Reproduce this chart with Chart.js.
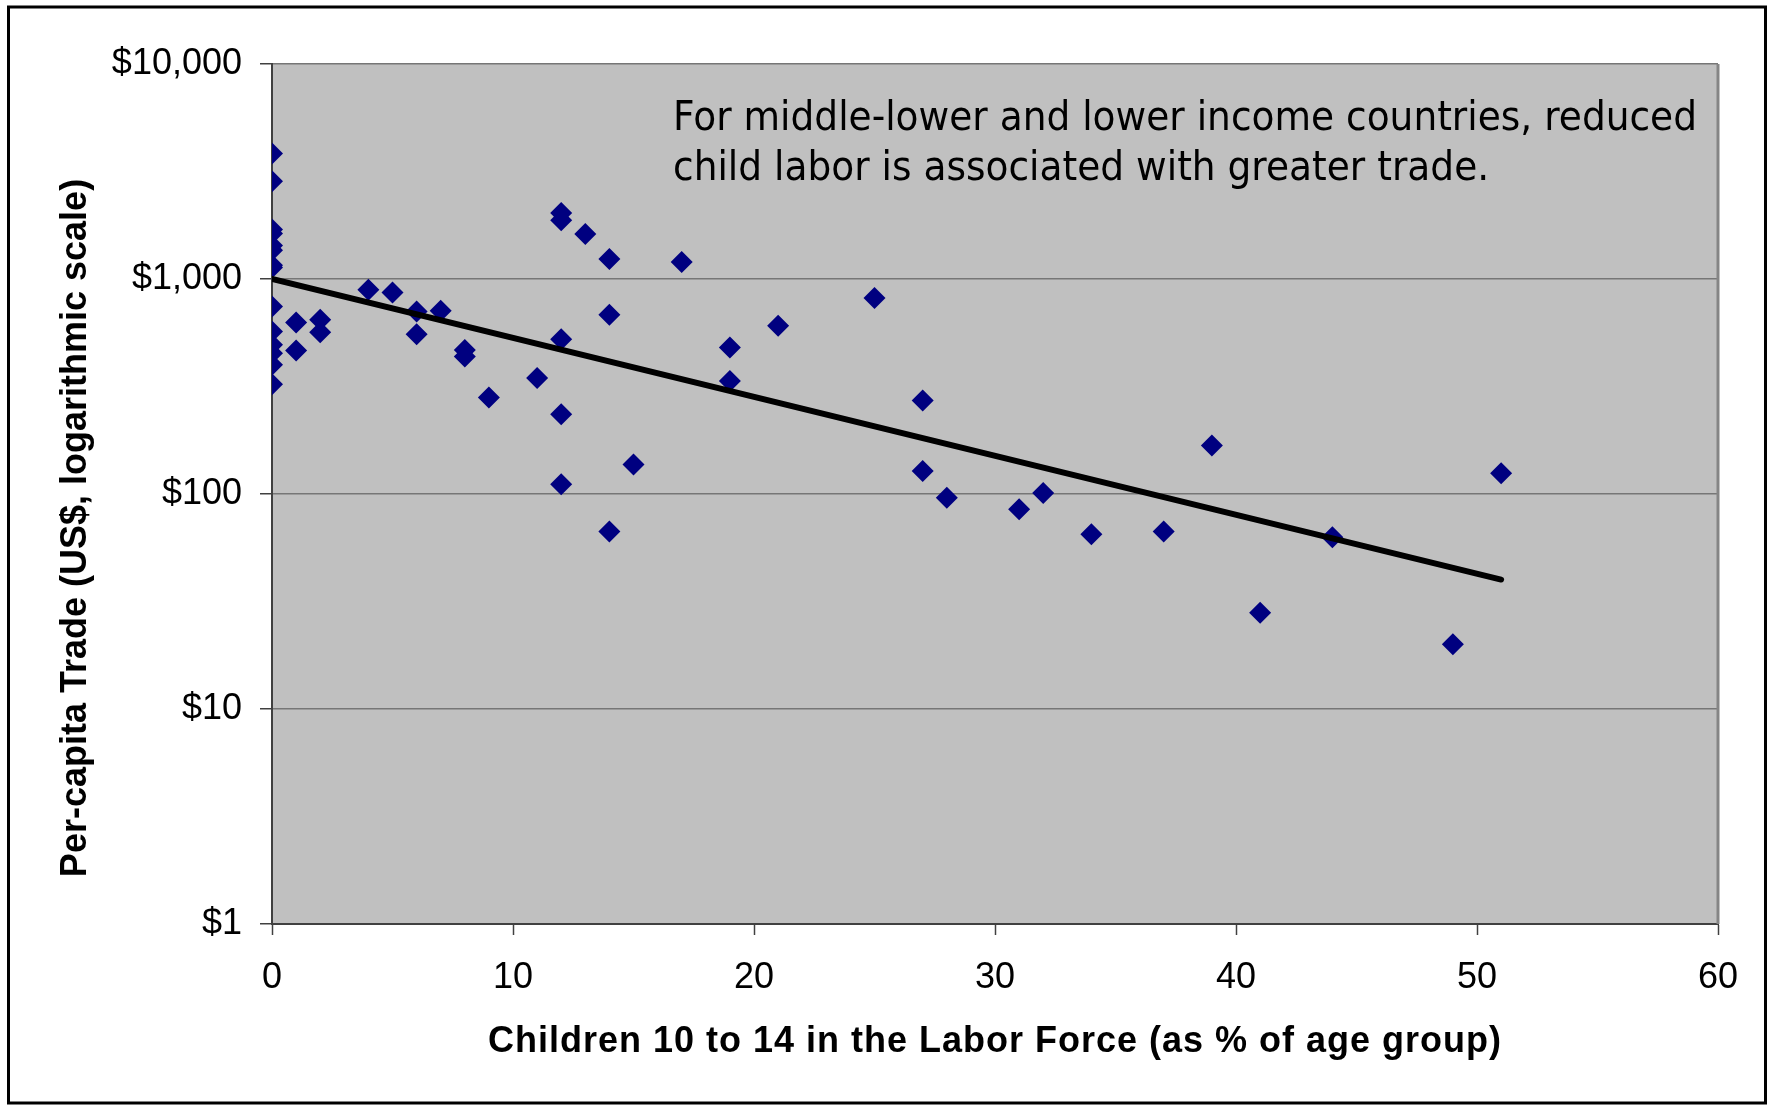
<!DOCTYPE html>
<html>
<head>
<meta charset="utf-8">
<title>Child labor and per-capita trade</title>
<script src="https://cdn.jsdelivr.net/npm/chart.js@4/dist/chart.umd.min.js"></script>
<style>
  html, body { margin: 0; padding: 0; background: #ffffff; }
  canvas { display: block; }
</style>
</head>
<body>
<canvas id="chart" width="1771" height="1106"></canvas>
<script>
// Children 10-14 in the labor force (% of age group), one entry per country
const laborShare = [
  0, 0, 0, 0, 0, 0, 0, 0, 0, 0, 0, 0, 0, 0,
  1, 1, 2, 2, 4, 5, 6, 6, 7, 8, 8, 9, 11,
  12, 12, 12, 12, 12, 13, 14, 14, 14, 15, 17, 19, 19, 21,
  25, 27, 27, 28, 31, 32, 34, 37, 39, 41, 44, 49, 51
];
// Per-capita trade in US$, same order as laborShare
const tradePerCapita = [
  3830, 2850, 1700, 1630, 1430, 1360, 1160, 1130, 745, 570, 494, 452, 399, 324,
  628, 465, 646, 566, 891, 866, 706, 554, 711, 468, 436, 281, 346,
  2030, 1875, 525, 235, 111, 1620, 1240, 681, 67, 137, 1200, 480, 335, 606,
  815, 272, 128, 96, 85, 101, 65, 67, 168, 28, 63, 20, 125
];
// Exponential trend line (straight on the log axis): its two end points
const trendX = [0, 51];
const trendY = [1000, 40];

const xTickValues = [0, 10, 20, 30, 40, 50, 60];
const yTickValues = [1, 10, 100, 1000, 10000];
const yTickLabels = ['$1', '$10', '$100', '$1,000', '$10,000'];

const xTitle = 'Children 10 to 14 in the Labor Force (as % of age group)';
const yTitle = 'Per-capita Trade (US$, logarithmic scale)';
const noteLines = [
  'For middle-lower and lower income countries, reduced',
  'child labor is associated with greater trade.'
];

const points = laborShare.map((x, i) => ({ x: x, y: tradePerCapita[i] }));
const trend = trendX.map((x, i) => ({ x: x, y: trendY[i] }));

const SANS = '"Liberation Sans", Arial, sans-serif';

// Page frame, grey plot panel, axis titles and the note inside the panel
const framePlugin = {
  id: 'frame',
  beforeDraw(chart) {
    const ctx = chart.ctx;
    const a = chart.chartArea;
    ctx.save();
    ctx.fillStyle = '#ffffff';
    ctx.fillRect(0, 0, chart.width, chart.height);
    ctx.fillStyle = '#c0c0c0';
    ctx.fillRect(a.left, a.top, a.right - a.left, a.bottom - a.top);
    ctx.restore();
  },
  afterDraw(chart) {
    const ctx = chart.ctx;
    const a = chart.chartArea;
    ctx.save();

    // right edge of the plot panel
    ctx.strokeStyle = '#858585';
    ctx.lineWidth = 3;
    ctx.beginPath();
    ctx.moveTo(a.right, a.top);
    ctx.lineTo(a.right, a.bottom);
    ctx.stroke();

    // outer border
    ctx.strokeStyle = '#000000';
    ctx.lineWidth = 3;
    ctx.strokeRect(8.5, 7, 1757, 1096);

    ctx.fillStyle = '#000000';

    // x axis title
    ctx.font = 'bold 36px ' + SANS;
    ctx.textAlign = 'center';
    ctx.textBaseline = 'alphabetic';
    ctx.letterSpacing = '1px';
    ctx.fillText(xTitle, (a.left + a.right) / 2, 1052);
    ctx.letterSpacing = '0px';

    // y axis title
    ctx.save();
    ctx.translate(86, 528);
    ctx.rotate(-Math.PI / 2);
    ctx.font = 'bold 36px ' + SANS;
    ctx.textAlign = 'center';
    ctx.textBaseline = 'alphabetic';
    ctx.fillText(yTitle, 0, 0);
    ctx.restore();

    // note, set in a narrow humanist face
    ctx.font = '41px "DejaVu Sans", Verdana, sans-serif';
    ctx.textAlign = 'left';
    ctx.textBaseline = 'alphabetic';
    const w = ctx.measureText(noteLines[0]).width;
    const sx = 1024 / w;
    ctx.translate(673, 130);
    ctx.scale(sx, 1);
    ctx.fillText(noteLines[0], 0, 0);
    ctx.fillText(noteLines[1], 0, 50);

    ctx.restore();
  }
};

new Chart(document.getElementById('chart'), {
  type: 'scatter',
  data: {
    datasets: [
      {
        label: 'Trend',
        data: trend,
        showLine: true,
        borderColor: '#000000',
        borderWidth: 6,
        borderCapStyle: 'round',
        pointRadius: 0,
        pointHoverRadius: 0,
        fill: false,
        order: 0
      },
      {
        label: 'Countries',
        data: points,
        pointStyle: 'rectRot',
        pointRadius: 11,
        pointHoverRadius: 11,
        backgroundColor: '#000080',
        borderColor: '#000080',
        borderWidth: 0,
        order: 1
      }
    ]
  },
  options: {
    responsive: false,
    animation: false,
    devicePixelRatio: 1,
    layout: { padding: { top: 64, right: 53, bottom: 0, left: 0 } },
    plugins: {
      legend: { display: false },
      tooltip: { enabled: false },
      title: { display: false }
    },
    scales: {
      x: {
        type: 'linear',
        min: 0,
        max: 60,
        afterBuildTicks: (s) => { s.ticks = xTickValues.map(v => ({ value: v })); },
        afterFit: (s) => { s.height = 182; },
        ticks: {
          color: '#000000',
          font: { family: SANS, size: 36 },
          padding: 21,
          maxRotation: 0,
          callback: (v) => String(v)
        },
        grid: {
          drawOnChartArea: false,
          drawTicks: true,
          tickLength: 11,
          tickColor: '#404040',
          tickWidth: 1.5
        },
        border: { color: '#404040', width: 2 }
      },
      y: {
        type: 'logarithmic',
        min: 1,
        max: 10000,
        afterBuildTicks: (s) => { s.ticks = yTickValues.map(v => ({ value: v })); },
        afterFit: (s) => { s.width = 272; },
        ticks: {
          color: '#000000',
          font: { family: SANS, size: 36 },
          padding: 18,
          callback: (v) => {
            const i = yTickValues.indexOf(v);
            return i >= 0 ? yTickLabels[i] : '';
          }
        },
        grid: {
          color: '#767676',
          lineWidth: 1.5,
          drawTicks: true,
          tickLength: 12,
          tickColor: '#404040',
          tickWidth: 1.5
        },
        border: { color: '#404040', width: 2 }
      }
    }
  },
  plugins: [framePlugin]
});
</script>
</body>
</html>
